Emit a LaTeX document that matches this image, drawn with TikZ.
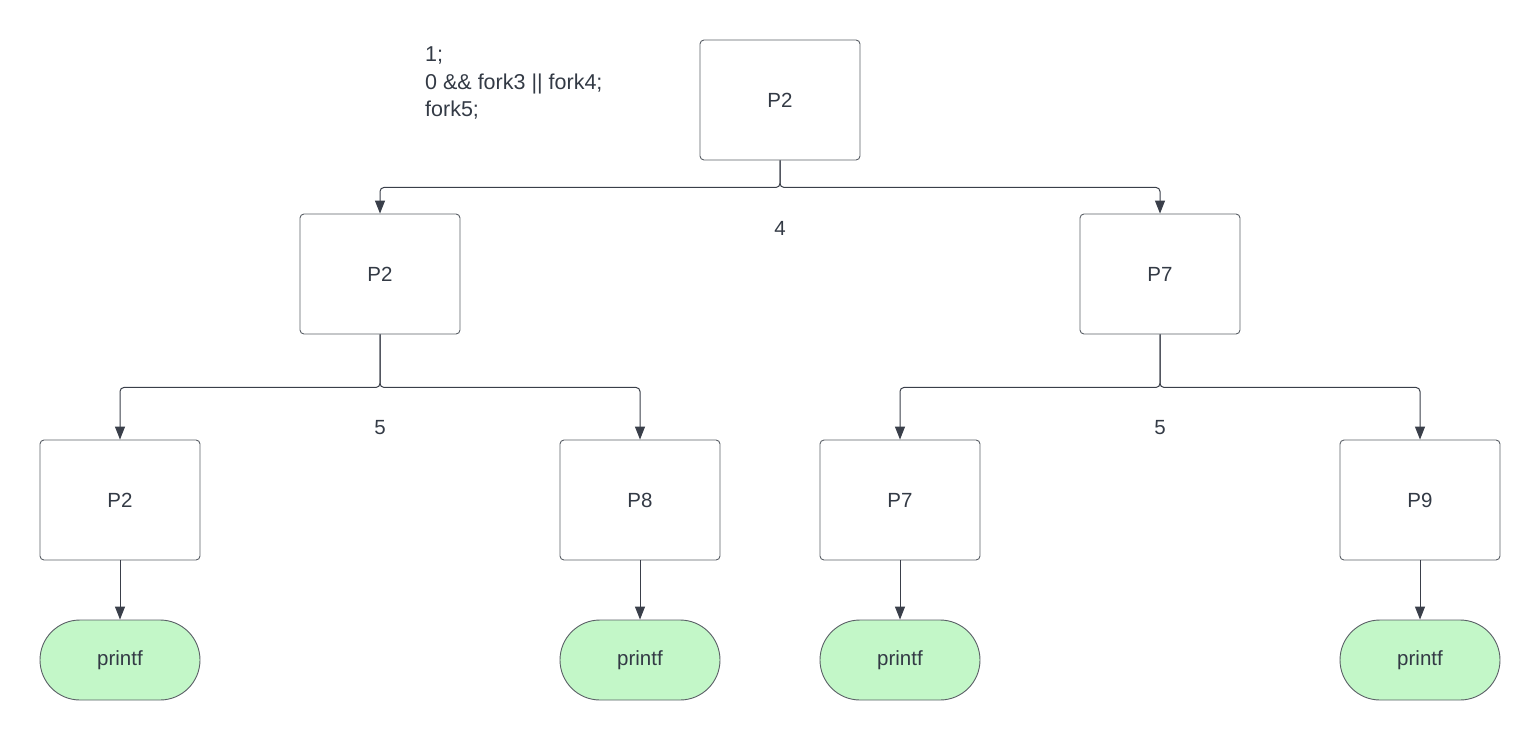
\documentclass[tikz,border=0pt]{standalone}
\usepackage{fontspec}
\setmainfont{Liberation Sans}
\usetikzlibrary{arrows.meta}
\definecolor{linec}{HTML}{3A3F4A}
\definecolor{boxc}{HTML}{5A5F66}
\definecolor{txtc}{HTML}{333A45}
\definecolor{greenf}{HTML}{C3F7C8}
\begin{document}
\begin{tikzpicture}[x=1pt,y=-1pt,
  proc/.style={draw=boxc,line width=0.9pt,rounded corners=4pt,minimum width=160pt,minimum height=120pt,inner sep=0pt,text=txtc,font=\fontsize{20.5}{24}\selectfont},
  term/.style={draw=boxc,line width=0.9pt,fill=greenf,rounded corners=40pt,minimum width=160pt,minimum height=80pt,inner sep=0pt,text=txtc,font=\fontsize{20.5}{24}\selectfont},
  conn/.style={draw=linec,line width=1pt,rounded corners=4pt,-{Triangle[length=13pt,width=10pt]}},
  lbl/.style={text=txtc,font=\fontsize{20.5}{24}\selectfont,inner sep=0pt}]
\useasboundingbox (0,0) rectangle (1540,740);
\node[proc] (a) at (780,100) {P2};
\node[proc] (b) at (380,274) {P2};
\node[proc] (c) at (1160,274) {P7};
\node[proc] (d) at (120,500) {P2};
\node[proc] (e) at (640,500) {P8};
\node[proc] (f) at (900,500) {P7};
\node[proc] (g) at (1420,500) {P9};
\node[term] (d1) at (120,660) {printf};
\node[term] (e1) at (640,660) {printf};
\node[term] (f1) at (900,660) {printf};
\node[term] (g1) at (1420,660) {printf};
\draw[conn] (a.south) -- ++(0,27) -| (b.north);
\draw[conn] (a.south) -- ++(0,27) -| (c.north);
\draw[conn] (b.south) -- ++(0,53) -| (d.north);
\draw[conn] (b.south) -- ++(0,53) -| (e.north);
\draw[conn] (c.south) -- ++(0,53) -| (f.north);
\draw[conn] (c.south) -- ++(0,53) -| (g.north);
\draw[conn] (d.south) -- (d1.north);
\draw[conn] (e.south) -- (e1.north);
\draw[conn] (f.south) -- (f1.north);
\draw[conn] (g.south) -- (g1.north);
\node[lbl] (l4) at (780,228) {4};
\node[lbl] (l5a) at (380,428) {5};
\node[lbl] (l5b) at (1160,428) {5};
\node[lbl,anchor=north west,align=left,font=\fontsize{21.5}{27.5}\selectfont] (code) at (425,47) {1;\\0 \&\& fork3 || fork4;\\fork5;};
\end{tikzpicture}
\end{document}
